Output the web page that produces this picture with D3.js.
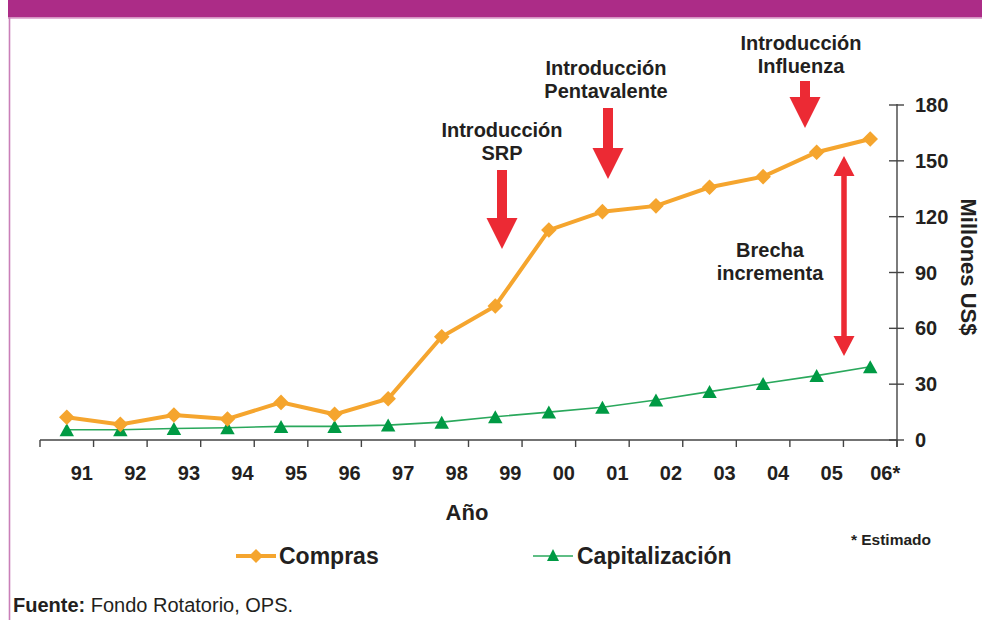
<!DOCTYPE html>
<html>
<head>
<meta charset="utf-8">
<script src="https://cdn.jsdelivr.net/npm/d3@7"></script>
<style>
  html, body { margin: 0; padding: 0; background: #fff; }
  svg { display: block; font-family: "Liberation Sans", Arial, sans-serif; }
</style>
</head>
<body>
<svg id="chart" width="982" height="620"></svg>
<script>
// ---- Data ----
const years = ["91","92","93","94","95","96","97","98","99","00","01","02","03","04","05","06*"];
const compras = [12.2, 8.4, 13.4, 11.3, 20.2, 13.8, 22.2, 55.5, 72, 112.8, 122.7, 125.8, 135.8, 141.5, 154.6, 161.7];
const capitalizacion = [5.5, 5.5, 6.2, 6.6, 7.3, 7.3, 8, 9.6, 12.5, 15, 17.6, 21.5, 26, 30.4, 34.6, 39.4];
const yTicks = [0, 30, 60, 90, 120, 150, 180];
const seriesNames = ["Compras", "Capitalización"];
const introAnnotations = [
  { year: "99", lines: ["Introducción", "SRP"] },
  { year: "01", lines: ["Introducción", "Pentavalente"] },
  { year: "05", lines: ["Introducción", "Influenza"] }
];

const svg = d3.select("#chart");
const ink = "#231f20";
const orange = "#f5a52e";
const green = "#009a44";
const red = "#ec2a34";

// header band + frame
svg.append("rect").attr("x", 8).attr("y", 0).attr("width", 974).attr("height", 17.5).attr("fill", "#ac2c87");
svg.append("line").attr("x1", 8).attr("x2", 982).attr("y1", 18.2).attr("y2", 18.2).attr("stroke", "#d58fc3").attr("stroke-width", 1);
svg.append("line").attr("x1", 9.5).attr("x2", 9.5).attr("y1", 17).attr("y2", 620).attr("stroke", "#c97fb8").attr("stroke-width", 1.6);

// scales
const x = d3.scaleBand().domain(years).range([40, 897]).padding(0);
const y = d3.scaleLinear().domain([0, 180]).range([440, 105]);
const cx = d => x(d) + x.bandwidth() / 2;

// x axis
const gx = svg.append("g");
gx.append("line").attr("x1", 40).attr("x2", 897).attr("y1", y(0)).attr("y2", y(0)).attr("stroke", "#444").attr("stroke-width", 1.4);
const bounds = years.map(d => x(d)).concat([897]);
gx.selectAll("line.tick").data(bounds).join("line").attr("class", "tick")
  .attr("x1", d => d).attr("x2", d => d).attr("y1", y(0)).attr("y2", y(0) + 7)
  .attr("stroke", "#444").attr("stroke-width", 1.4);
gx.selectAll("text").data(years).join("text")
  .attr("x", d => cx(d) + 15).attr("y", 480)
  .attr("text-anchor", "middle").attr("font-size", 20).attr("font-weight", "bold").attr("fill", ink)
  .text(d => d);
svg.append("text").attr("x", 467).attr("y", 520).attr("text-anchor", "middle")
  .attr("font-size", 22).attr("font-weight", "bold").attr("fill", ink).text("Año");

// y axis (right)
const gy = svg.append("g");
gy.append("line").attr("x1", 897).attr("x2", 897).attr("y1", y(180) - 1).attr("y2", y(0) + 7).attr("stroke", "#444").attr("stroke-width", 1.4);
gy.selectAll("line.tick").data(yTicks).join("line").attr("class", "tick")
  .attr("x1", 889).attr("x2", 904).attr("y1", d => y(d)).attr("y2", d => y(d))
  .attr("stroke", "#444").attr("stroke-width", 1.4);
gy.selectAll("text").data(yTicks).join("text")
  .attr("x", 915).attr("y", d => y(d) + 7)
  .attr("font-size", 20).attr("font-weight", "bold").attr("fill", ink)
  .text(d => d);
svg.append("text").attr("transform", "translate(961,267) rotate(90)")
  .attr("text-anchor", "middle").attr("font-size", 22).attr("font-weight", "bold").attr("fill", ink)
  .text("Millones US$");

// series
const line = d3.line().x((d, i) => cx(years[i])).y(d => y(d));
svg.append("path").datum(capitalizacion).attr("d", line).attr("fill", "none").attr("stroke", "#2aa85c").attr("stroke-width", 1.6);
svg.append("path").datum(compras).attr("d", line).attr("fill", "none").attr("stroke", orange).attr("stroke-width", 4);

const diamond = r => `M0,${-r}L${r},0L0,${r}L${-r},0Z`;
const tri = (w, h) => `M0,${-h/2}L${w/2},${h/2}L${-w/2},${h/2}Z`;

svg.append("g").selectAll("path").data(capitalizacion).join("path")
  .attr("transform", (d, i) => `translate(${cx(years[i])},${y(d)})`)
  .attr("d", tri(14.5, 13)).attr("fill", green);
svg.append("g").selectAll("path").data(compras).join("path")
  .attr("transform", (d, i) => `translate(${cx(years[i])},${y(d)})`)
  .attr("d", diamond(7.8)).attr("fill", orange);

// down arrows with labels
function downArrow(xc, y0, yHeadBase, yTip, shaftW, headW) {
  svg.append("path")
    .attr("d", `M${xc - shaftW/2},${y0}L${xc + shaftW/2},${y0}L${xc + shaftW/2},${yHeadBase}L${xc + headW/2},${yHeadBase}L${xc},${yTip}L${xc - headW/2},${yHeadBase}L${xc - shaftW/2},${yHeadBase}Z`)
    .attr("fill", red);
}
const annLayout = [
  { tx: 502, ty: 137, ax: 502, a0: 170, aHB: 218, aTip: 249 },
  { tx: 606, ty: 75, ax: 608, a0: 108, aHB: 148, aTip: 179 },
  { tx: 801, ty: 50, ax: 805, a0: 81, aHB: 97, aTip: 128 }
];
introAnnotations.forEach((a, i) => {
  const L = annLayout[i];
  const t = svg.append("text").attr("text-anchor", "middle").attr("font-size", 20).attr("font-weight", "bold").attr("fill", ink);
  a.lines.forEach((s, j) => t.append("tspan").attr("x", L.tx).attr("y", L.ty + j * 23).text(s));
  downArrow(L.ax, L.a0, L.aHB, L.aTip, 10, 31);
});

// double arrow (gap)
{
  const xc = 844, top = 156, bot = 356, hh = 20, hw = 21, sw = 5.5;
  svg.append("path")
    .attr("d", `M${xc},${top}L${xc + hw/2},${top + hh}L${xc + sw/2},${top + hh}L${xc + sw/2},${bot - hh}L${xc + hw/2},${bot - hh}L${xc},${bot}L${xc - hw/2},${bot - hh}L${xc - sw/2},${bot - hh}L${xc - sw/2},${top + hh}L${xc - hw/2},${top + hh}Z`)
    .attr("fill", red);
  const t = svg.append("text").attr("text-anchor", "middle").attr("font-size", 20).attr("font-weight", "bold").attr("fill", ink);
  t.append("tspan").attr("x", 770).attr("y", 257).text("Brecha");
  t.append("tspan").attr("x", 770).attr("y", 280).text("incrementa");
}

// legend
const lg = svg.append("g");
lg.append("line").attr("x1", 236).attr("x2", 276).attr("y1", 556).attr("y2", 556).attr("stroke", orange).attr("stroke-width", 4);
lg.append("path").attr("transform", "translate(256,556)").attr("d", diamond(7)).attr("fill", orange);
lg.append("text").attr("x", 279).attr("y", 564).attr("font-size", 23).attr("font-weight", "bold").attr("fill", ink).text(seriesNames[0]);
lg.append("line").attr("x1", 533).attr("x2", 573).attr("y1", 556).attr("y2", 556).attr("stroke", "#2aa85c").attr("stroke-width", 1.6);
lg.append("path").attr("transform", "translate(553,555)").attr("d", tri(12, 12)).attr("fill", green);
lg.append("text").attr("x", 577).attr("y", 564).attr("font-size", 23).attr("font-weight", "bold").attr("fill", ink).text(seriesNames[1]);

svg.append("text").attr("x", 931).attr("y", 545).attr("text-anchor", "end")
  .attr("font-size", 15.5).attr("font-weight", "bold").attr("fill", ink).text("* Estimado");

// source
const src = svg.append("text").attr("x", 13).attr("y", 612)
  .attr("font-family", "'Liberation Sans Narrow', 'Liberation Sans', sans-serif").attr("font-size", 20).attr("fill", ink);
src.append("tspan").attr("font-weight", "bold").text("Fuente:");
src.append("tspan").text(" Fondo Rotatorio, OPS.");
</script>
</body>
</html>
